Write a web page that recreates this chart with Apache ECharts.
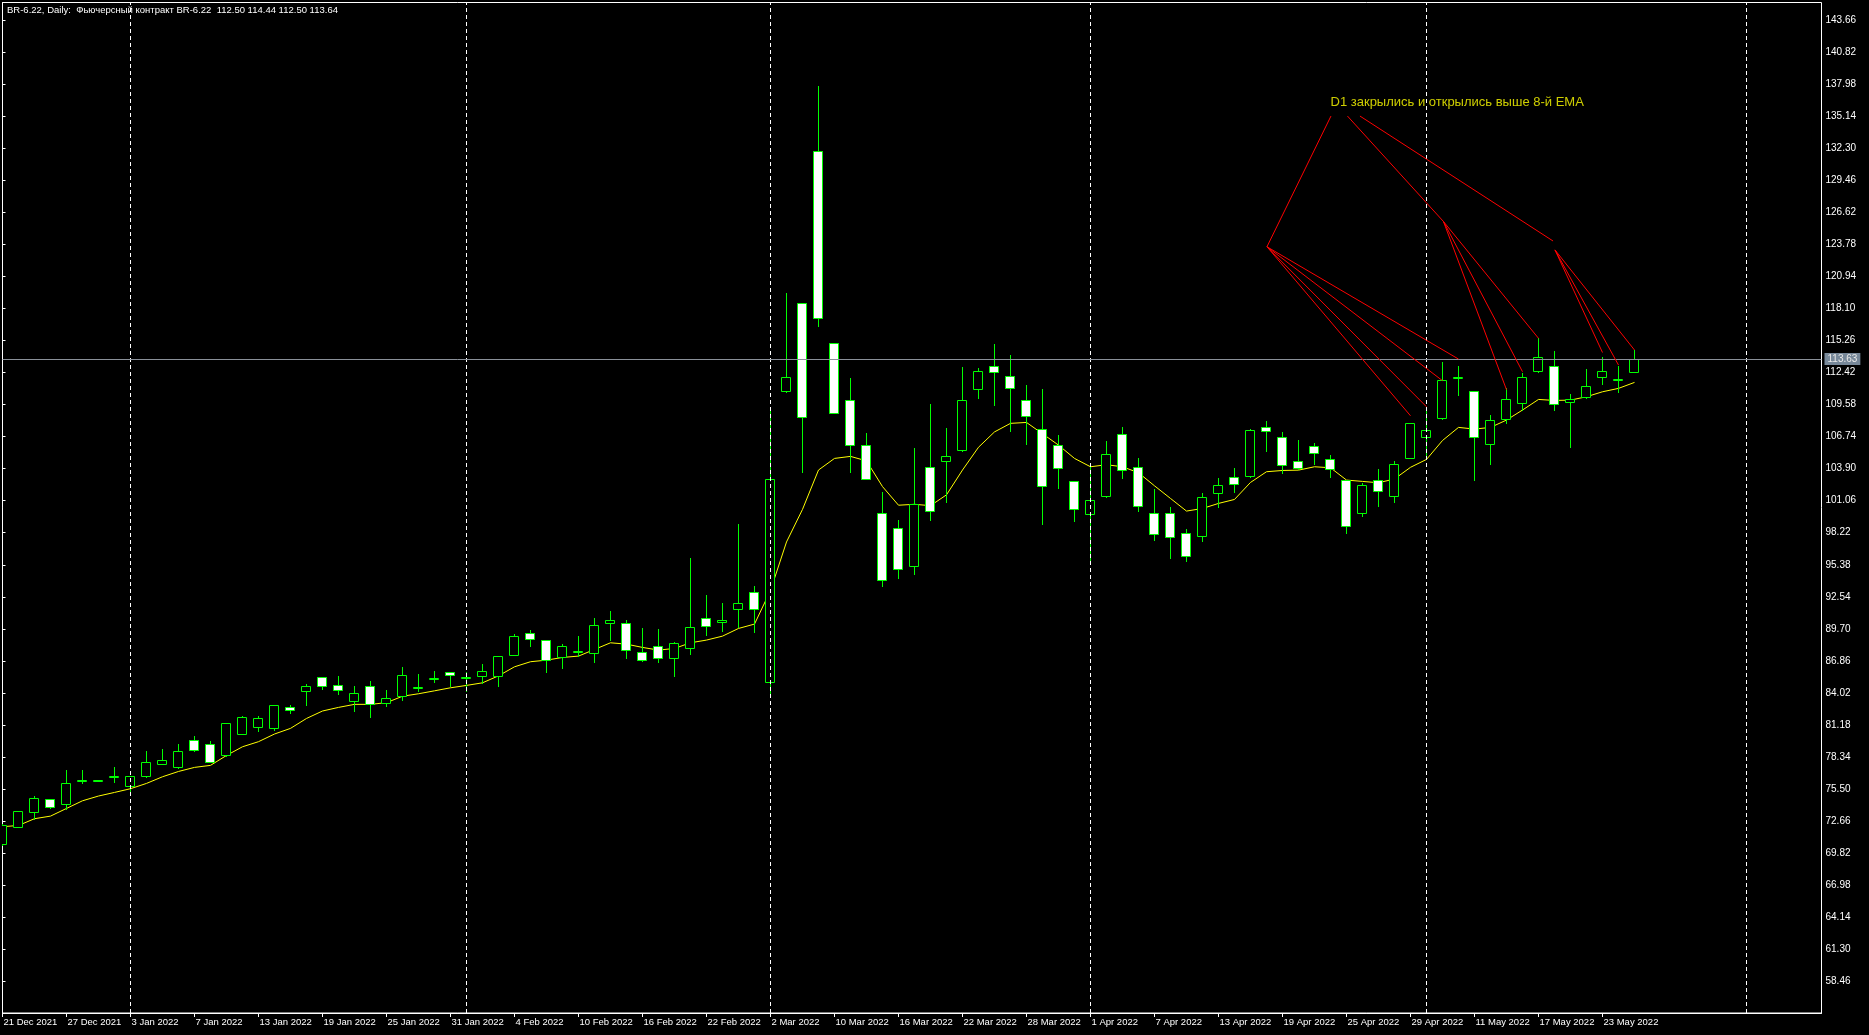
<!DOCTYPE html>
<html><head><meta charset="utf-8">
<script src="https://cdn.jsdelivr.net/npm/echarts@6/dist/echarts.min.js"></script>
<style>html,body{margin:0;padding:0;background:#000;}#c{width:1869px;height:1035px;}</style>
</head><body><div id="c"></div><script>
// ---- data (bar index 0 = 21 Dec 2021 ... 102 = 25 May 2022) ----
const opens  = [70.58,72.15,73.42,74.57,74.13,76.24,76.22,76.65,75.78,76.67,77.73,77.47,79.80,79.45,78.47,80.39,81.02,80.93,82.76,84.21,
                85.39,84.68,83.32,84.59,83.09,83.76,84.47,85.34,85.83,85.43,85.53,85.53,87.40,89.29,88.67,87.22,87.70,87.57,90.23,90.18,
                87.60,88.19,87.07,87.96,90.62,90.26,91.42,92.95,85.00,110.76,118.58,132.06,115.02,109.99,105.99,99.96,98.64,95.26,104.04,104.59,
                105.55,110.94,113.00,112.10,109.97,107.40,105.96,102.77,99.84,101.44,106.94,104.01,99.93,99.93,98.16,97.89,101.76,103.12,103.21,107.56,
                106.67,104.54,105.87,104.72,102.86,99.93,102.92,101.44,104.88,106.67,108.36,112.00,110.75,106.05,108.27,109.75,112.52,112.97,109.83,110.22,
                111.99,111.85,112.50];
const highs  = [72.35,73.55,74.87,74.60,77.17,77.17,76.28,77.44,76.65,78.86,79.03,79.48,80.19,79.74,81.35,81.96,81.96,82.95,82.91,84.80,
                85.40,85.51,84.62,85.07,84.27,86.30,85.68,85.95,85.85,85.89,86.57,87.30,89.23,89.58,88.70,88.34,89.05,90.65,91.27,90.47,
                89.76,89.67,88.52,95.97,92.69,91.98,98.99,93.49,109.29,119.45,118.60,137.83,115.05,111.97,107.02,101.84,99.38,105.77,109.66,107.53,
                112.93,112.82,114.98,113.99,111.31,110.93,106.85,102.80,104.07,106.35,107.59,104.84,102.12,100.49,98.51,101.70,103.06,103.95,107.41,108.12,
                107.14,106.43,106.14,105.07,102.90,102.65,103.86,104.54,107.95,109.05,113.32,113.00,110.80,108.62,111.02,112.35,115.45,114.30,110.51,112.73,
                113.80,113.00,114.44];
const lows   = [70.50,72.10,72.80,73.80,73.68,76.05,76.20,76.14,74.96,76.60,77.70,77.38,78.86,77.90,78.45,80.35,80.66,80.72,82.26,82.97,
                84.39,83.94,82.43,81.90,82.88,83.38,84.17,84.97,84.62,84.17,84.85,84.65,87.35,88.16,85.86,86.21,87.28,86.75,88.70,87.13,
                86.85,86.78,85.53,87.48,89.14,89.50,89.88,89.44,83.90,110.70,103.60,116.53,108.80,103.60,102.95,93.50,94.23,94.57,99.38,100.92,
                105.50,110.21,109.51,107.27,106.06,98.95,102.21,99.28,95.50,101.40,103.09,100.17,97.59,96.00,95.73,97.51,100.52,101.82,103.20,105.49,
                103.54,103.90,104.31,103.18,98.24,99.66,100.61,100.96,104.85,104.90,108.30,110.46,102.92,104.34,107.97,109.10,112.50,109.12,105.84,110.13,
                111.43,110.72,112.50];
const closes = [72.26,73.51,74.66,73.86,75.99,76.27,76.26,76.68,76.61,77.85,78.03,78.83,78.98,77.91,81.31,81.84,81.78,82.91,82.52,84.59,
                84.59,84.24,83.97,83.00,83.53,85.56,84.50,85.38,85.56,85.47,85.92,87.25,89.02,88.84,86.92,88.14,87.74,90.00,90.47,87.84,
                86.89,87.07,88.40,89.82,89.91,90.47,91.95,91.42,102.97,112.01,108.48,117.26,108.81,105.99,102.98,94.05,95.04,100.74,100.18,105.03,
                109.99,112.56,112.45,111.02,108.55,102.35,103.92,100.28,101.08,105.16,103.74,100.55,98.07,97.80,96.20,101.35,102.41,102.50,107.29,107.20,
                104.19,103.92,105.25,103.83,98.78,102.41,101.88,104.28,107.91,107.29,111.73,112.04,106.67,108.18,110.04,111.99,113.77,109.60,110.04,111.19,
                112.52,111.89,113.64];
const ema8   = [72.15,72.26,72.86,73.09,73.77,74.45,74.87,75.19,75.52,75.99,76.58,77.05,77.41,77.59,78.47,79.24,79.69,80.37,80.87,81.75,
                82.41,82.73,83.00,83.00,83.15,83.72,83.94,84.20,84.47,84.68,84.91,85.53,86.33,86.78,86.92,87.16,87.28,87.87,88.46,88.34,
                88.05,87.81,87.96,88.46,88.70,89.05,89.73,90.12,93.10,97.40,100.29,103.78,104.81,104.99,104.59,102.31,100.66,100.74,100.62,101.58,
                103.78,105.80,107.16,107.92,108.00,107.00,105.99,104.81,104.07,104.25,104.07,103.54,102.38,101.26,100.14,100.37,100.82,101.17,102.68,103.63,
                103.74,103.77,104.07,103.98,102.89,102.77,102.65,102.99,104.02,104.72,106.40,107.56,107.41,107.56,108.21,109.10,110.04,109.95,109.98,110.28,
                110.72,111.02,111.55];
const dateLabels = ['21 Dec 2021','27 Dec 2021','3 Jan 2022','7 Jan 2022','13 Jan 2022','19 Jan 2022','25 Jan 2022','31 Jan 2022',
                    '4 Feb 2022','10 Feb 2022','16 Feb 2022','22 Feb 2022','2 Mar 2022','10 Mar 2022','16 Mar 2022','22 Mar 2022',
                    '28 Mar 2022','1 Apr 2022','7 Apr 2022','13 Apr 2022','19 Apr 2022','25 Apr 2022','29 Apr 2022','11 May 2022',
                    '17 May 2022','23 May 2022'];
const dateLabelIdx = [0,4,8,12,16,20,24,28,32,36,40,44,48,52,56,60,64,68,72,76,80,84,88,92,96,100];
const priceTicks = [58.46,61.30,64.14,66.98,69.82,72.66,75.50,78.34,81.18,84.02,86.86,89.70,92.54,95.38,98.22,101.06,
                    103.90,106.74,109.58,112.42,115.26,118.10,120.94,123.78,126.62,129.46,132.30,135.14,137.98,140.82,143.66];
const monthSeparatorIdx = [8,29,48,68,89,109];
const bidPrice = 113.63;
const titleText = 'BR-6.22, Daily:  Фьючерсный контракт BR-6.22  112.50 114.44 112.50 113.64';
const noteText = 'D1 закрылись и открылись выше 8-й EMA';
const notePoint = [82.97, 136.35];
const redSegments = [
  [[83.03,135.17],[79.03,123.58]],
  [[84.06,135.17],[90.06,125.82]],
  [[84.84,135.17],[96.91,124.09]],
  [[79.03,123.58],[88,108.59]],
  [[79.03,123.58],[89,109.39]],
  [[79.03,123.58],[90,111.70]],
  [[79.03,123.58],[91,113.62]],
  [[90.06,125.82],[94,110.90]],
  [[90.06,125.82],[95,112.50]],
  [[90.06,125.82],[96,115.46]],
  [[97.03,123.30],[100,114.20]],
  [[97.03,123.30],[101,113.09]],
  [[97.03,123.30],[102,114.42]]
];

// ---- build ----
const FONT = 'Liberation Sans';
const candleData = opens.map((o, i) => [i, o, closes[i], lows[i], highs[i]]);
const emaData = ema8.map((v, i) => [i, v]);

function renderCandle(params, api) {
  const i = api.value(0), o = api.value(1), c = api.value(2), l = api.value(3), h = api.value(4);
  const pO = api.coord([i, o]), pC = api.coord([i, c]), pH = api.coord([i, h]), pL = api.coord([i, l]);
  const xc = Math.round(pO[0] - 0.5);
  const yTop = Math.round(Math.min(pO[1], pC[1]));
  const yBot = Math.round(Math.max(pO[1], pC[1]));
  const bull = c >= o;
  const bodyH = Math.max(1, yBot - yTop);
  return {
    type: 'group',
    children: [
      {type: 'line', shape: {x1: xc + 0.5, y1: Math.round(pH[1]), x2: xc + 0.5, y2: Math.round(pL[1]) + 1},
       style: {stroke: '#00ff00', lineWidth: 1}},
      {type: 'rect', shape: {x: xc - 4.5, y: yTop + 0.5, width: 9, height: bodyH},
       style: {fill: bull ? '#000000' : '#ffffff', stroke: '#00ff00', lineWidth: 1}}
    ]
  };
}

const chart = echarts.init(document.getElementById('c'), null, {renderer: 'canvas'});
chart.setOption({
  animation: false,
  backgroundColor: '#000000',
  graphic: [{
    type: 'text', left: 7, top: 5, z: 100,
    style: {text: titleText, fill: '#ffffff', fontSize: 9.5, fontFamily: FONT}
  }],
  grid: {left: 2.5, right: 47.5, top: 2.5, bottom: 22, show: true, borderColor: '#ffffff', borderWidth: 1, backgroundColor: '#000000'},
  xAxis: {
    type: 'value', min: 0, max: 113.6875, position: 'bottom',
    axisLine: {show: true, lineStyle: {color: '#ffffff', width: 1}},
    axisTick: {show: true, customValues: dateLabelIdx, length: 4, lineStyle: {color: '#ffffff'}},
    axisLabel: {show: true, customValues: dateLabelIdx, color: '#ffffff', fontSize: 9.5, fontFamily: FONT,
                align: 'left', margin: 4, padding: [0, 0, 0, 1],
                formatter: v => dateLabels[dateLabelIdx.indexOf(Math.round(v))]},
    splitLine: {show: false}
  },
  yAxis: {
    type: 'value', position: 'right', min: 55.63, max: 145.24,
    axisLine: {show: true, lineStyle: {color: '#ffffff', width: 1}},
    axisTick: {show: true, customValues: priceTicks, length: 3, lineStyle: {color: '#ffffff'}},
    axisLabel: {show: true, customValues: priceTicks, color: '#ffffff', fontSize: 10, fontFamily: FONT, margin: 4,
                formatter: v => v.toFixed(2)},
    splitLine: {show: false}
  },
  series: [
    {
      type: 'line', data: emaData, showSymbol: false, symbol: 'none', z: 3,
      lineStyle: {color: '#ffff00', width: 1}, silent: true,
      markLine: {
        silent: true, symbol: ['none', 'none'], label: {show: false}, animation: false,
        lineStyle: {color: '#ffffff', type: [4, 3], width: 1},
        data: monthSeparatorIdx.map(v => ({xAxis: v}))
      }
    },
    {
      type: 'custom', data: candleData, renderItem: renderCandle, clip: true, z: 4, silent: true,
      encode: {x: 0, y: [1, 2, 3, 4]},
      markLine: {
        silent: true, symbol: ['none', 'none'], animation: false,
        lineStyle: {color: '#8a9099', type: 'solid', width: 1},
        label: {show: true, position: 'end', distance: 3, formatter: bidPrice.toFixed(2), color: '#e8e8e8',
                backgroundColor: '#778899', padding: [1, 3, 1, 3], fontSize: 10, fontFamily: FONT},
        data: [{yAxis: bidPrice}]
      }
    },
    {
      type: 'lines', coordinateSystem: 'cartesian2d', polyline: false, z: 5, silent: true,
      lineStyle: {color: '#ff0000', width: 1, opacity: 1},
      data: redSegments.map(s => ({coords: s}))
    },
    {
      type: 'scatter', data: [notePoint], symbolSize: 1, z: 6, silent: true,
      itemStyle: {color: 'rgba(0,0,0,0)'},
      label: {show: true, position: 'right', distance: 0, formatter: noteText, color: '#ffff00',
              fontSize: 13, fontFamily: FONT}
    }
  ]
});
</script></body></html>
